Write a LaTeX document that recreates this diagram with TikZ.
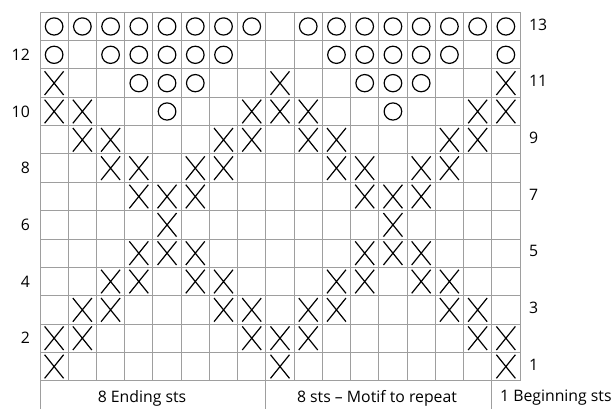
\documentclass[tikz,border=0pt]{standalone}
\usepackage{fontspec}
\setmainfont{Open Sans}
\begin{document}
\begin{tikzpicture}[x=1pt,y=-1pt,
  gridline/.style={draw=black!38, line width=1pt},
  sym/.style={draw=black, line width=1.2pt},
  lbl/.style={font=\fontsize{15.8}{19}\selectfont, inner sep=0pt},
  xmark/.pic={\draw[sym] (-9.5,-11.8) -- (9.5,11.8) (-9.5,11.8) -- (9.5,-11.8);},
  omark/.pic={\draw[sym] (0,0) ellipse [x radius=8.8, y radius=8.6];}]
\fill[white] (0,0) rectangle (616,409);
\useasboundingbox (0,0) rectangle (616,409);
\def\cw{28.235}\def\ch{28.34}\def\gx{40}\def\gy{12.3}
% grid
\foreach \i in {0,...,17} \draw[gridline] ({\gx+\i*\cw},\gy) -- ({\gx+\i*\cw},{\gy+13*\ch});
\foreach \j in {0,...,13} \draw[gridline] (\gx,{\gy+\j*\ch}) -- ({\gx+17*\cw},{\gy+\j*\ch});
\foreach \i in {0,8,16} \draw[gridline] ({\gx+\i*\cw},{\gy+13*\ch}) -- ({\gx+\i*\cw},409);
% X marks
\foreach \r/\cols in {1/{1,9,17}, 2/{1,2,8,9,10,16,17}, 3/{2,3,7,8,10,11,15,16},
  4/{3,4,6,7,11,12,14,15}, 5/{4,5,6,12,13,14}, 6/{5,13}, 7/{4,5,6,12,13,14},
  8/{3,4,6,7,11,12,14,15}, 9/{2,3,7,8,10,11,15,16}, 10/{1,2,8,9,10,16,17}, 11/{1,9,17}}{
  \foreach \c in \cols {
    \pgfmathsetmacro\cx{\gx+(\c-0.5)*\cw}
    \pgfmathsetmacro\cy{\gy+(13-\r+0.5)*\ch}
    \pic at (\cx,\cy) {xmark};
  }
}
% O marks
\foreach \r/\cols in {10/{5,13}, 11/{4,5,6,12,13,14}, 12/{1,3,4,5,6,7,11,12,13,14,15,17},
  13/{1,2,3,4,5,6,7,8,10,11,12,13,14,15,16,17}}{
  \foreach \c in \cols {
    \pgfmathsetmacro\cx{\gx+(\c-0.5)*\cw}
    \pgfmathsetmacro\cy{\gy+(13-\r+0.5)*\ch}
    \pic at (\cx,\cy) {omark};
  }
}
% row numbers
\foreach \r in {2,4,...,12} {
  \pgfmathsetmacro\cy{\gy+(13-\r+0.5)*\ch}
  \node[lbl, anchor=east] (L\r) at (30,\cy) {\r};
}
\foreach \r in {1,3,...,13} {
  \pgfmathsetmacro\cy{\gy+(13-\r+0.5)*\ch-2}
  \node[lbl, anchor=west] (R\r) at (529,\cy) {\r};
}
% bottom labels
\node[lbl] (ending) at (142,398) {8 Ending sts};
\node[lbl] (motif) at (377,398) {8 sts – Motif to repeat};
\node[lbl, anchor=west] (begin) at (500,398) {1 Beginning sts};
\end{tikzpicture}
\end{document}
